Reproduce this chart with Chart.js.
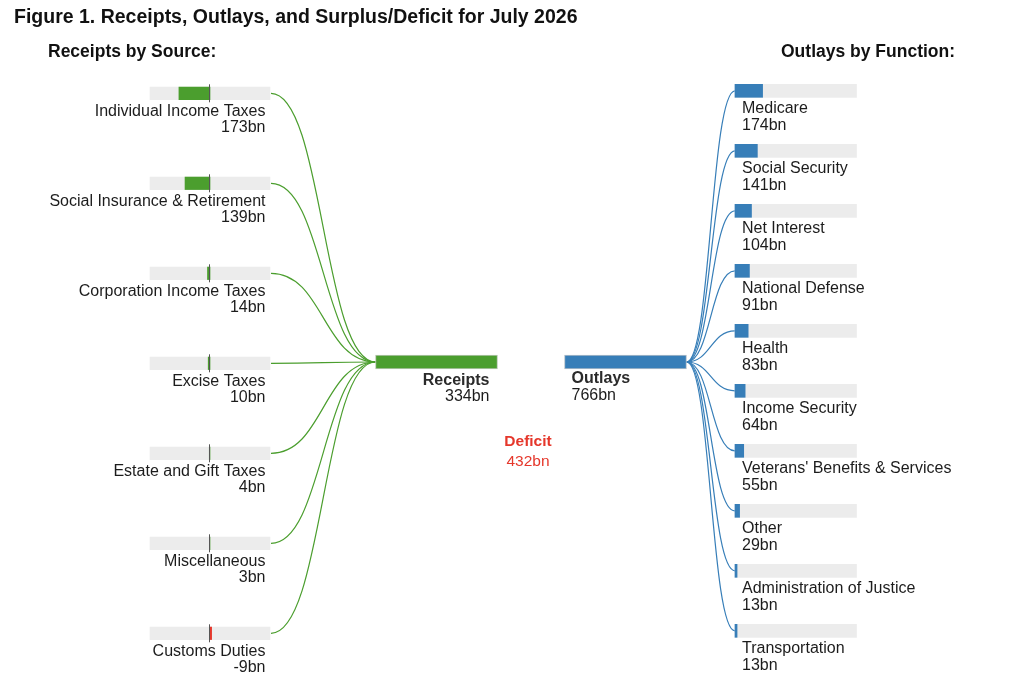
<!DOCTYPE html>
<html>
<head>
<meta charset="utf-8">
<script src="https://cdn.jsdelivr.net/npm/chart.js@4.4.1/dist/chart.umd.min.js"></script>
<style>
  html, body { margin: 0; padding: 0; background: #fff; }
  #wrap { position: relative; width: 1024px; height: 684px; }
</style>
</head>
<body>
<div id="wrap"><canvas id="flow" width="1024" height="684"></canvas></div>
<script>
// dati (miliardi di dollari)
const receiptSources = ['Individual Income Taxes', 'Social Insurance & Retirement', 'Corporation Income Taxes',
  'Excise Taxes', 'Estate and Gift Taxes', 'Miscellaneous', 'Customs Duties'];
const receiptValues = [173, 139, 14, 10, 4, 3, -9];
const outlayFunctions = ['Medicare', 'Social Security', 'Net Interest', 'National Defense', 'Health',
  'Income Security', "Veterans' Benefits & Services", 'Other', 'Administration of Justice', 'Transportation'];
const outlayValues = [174, 141, 104, 91, 83, 64, 55, 29, 13, 13];
const receiptsTotal = 334;
const outlaysTotal = 766;
const deficitValue = 432;

const W = 1024, H = 684;
const GREEN = '#4b9e2e', BLUE = '#377eb8', RED = '#e5372b', TRACK = '#ececec', INK = '#1c1c1c';
const FONT = '"Liberation Sans", Arial, Helvetica, sans-serif';

// dove stanno i pannelli (pixel)
const LAYOUT = {
  leftZero: 210, leftHalf: 60, leftRow0: 93.3, leftStep: 90,
  rightStart: 735, rightLen: 121.5, rightRow0: 90.8, rightStep: 60,
  recBar: [375.5, 497.5], outBar: [564.5, 686.5], centerY: 362
};

// valore a -> pixel pa, valore b -> pixel pb
function fitScale(a, pa, b, pb, len, vertical) {
  const k = (pb - pa) / (b - a);
  if (k > 0) { const min = a - pa / k; return { min, max: min + len / k, reverse: vertical }; }
  const m = -k; const max = a + pa / m;
  return { min: max - len / m, max, reverse: !vertical };
}
function axis(id, fit) {
  return { type: 'linear', axis: id[0], display: false, min: fit.min, max: fit.max, reverse: fit.reverse,
    offset: false, beginAtZero: false, grace: 0, bounds: 'data',
    grid: { display: false, offset: false }, ticks: { display: false } };
}

const L = LAYOUT;
const fitXL = fitScale(0, L.leftZero, receiptsTotal, L.leftZero - L.leftHalf, W, false);
const fitXR = fitScale(0, L.rightStart, outlaysTotal, L.rightStart + L.rightLen, W, false);
const fitXCR = fitScale(0, L.recBar[0], receiptsTotal, L.recBar[1], W, false);
const fitXCO = fitScale(0, L.outBar[0], outlaysTotal, L.outBar[1], W, false);
const fitYL = fitScale(0, L.leftRow0, 1, L.leftRow0 + L.leftStep, H, true);
const fitYR = fitScale(0, L.rightRow0, 1, L.rightRow0 + L.rightStep, H, true);
const fitYC = fitScale(0, L.centerY, 1, L.centerY + 50, H, true);

const scales = {
  xL: axis('xL', fitXL), xR: axis('xR', fitXR), xCR: axis('xCR', fitXCR), xCO: axis('xCO', fitXCO),
  yL: axis('yL', fitYL), yR: axis('yR', fitYR), yC: axis('yC', fitYC)
};

const barBase = { grouped: false, categoryPercentage: 1, barPercentage: 1, borderWidth: 0 };
const datasets = [
  { ...barBase, label: 'receipts', xAxisID: 'xL', yAxisID: 'yL', order: 1, barThickness: 12.5,
    data: receiptValues.map((v, i) => ({ x: [0, v], y: i })),
    backgroundColor: receiptValues.map(v => v < 0 ? RED : GREEN) },
  { ...barBase, label: 'receiptsTrack', xAxisID: 'xL', yAxisID: 'yL', order: 3, barThickness: 12.5,
    data: receiptSources.map((s, i) => ({ x: [-receiptsTotal, receiptsTotal], y: i })),
    backgroundColor: TRACK },
  { ...barBase, label: 'outlays', xAxisID: 'xR', yAxisID: 'yR', order: 1, barThickness: 13,
    data: outlayValues.map((v, i) => ({ x: [0, v], y: i })), backgroundColor: BLUE },
  { ...barBase, label: 'outlaysTrack', xAxisID: 'xR', yAxisID: 'yR', order: 3, barThickness: 13,
    data: outlayFunctions.map((s, i) => ({ x: [0, outlaysTotal], y: i })), backgroundColor: TRACK },
  { ...barBase, label: 'receiptsTotal', xAxisID: 'xCR', yAxisID: 'yC', order: 1, barThickness: 14,
    data: [{ x: [0, receiptsTotal], y: 0 }], backgroundColor: GREEN,
    borderColor: '#b9c7b3', borderWidth: 1, borderSkipped: false },
  { ...barBase, label: 'outlaysTotal', xAxisID: 'xCO', yAxisID: 'yC', order: 1, barThickness: 14,
    data: [{ x: [0, outlaysTotal], y: 0 }], backgroundColor: BLUE,
    borderColor: '#b3bfca', borderWidth: 1, borderSkipped: false }
];

function curve(ctx, x0, y0, x1, y1) {
  const mx = (x0 + x1) / 2;
  ctx.beginPath();
  ctx.moveTo(x0, y0);
  ctx.bezierCurveTo(mx, y0, mx, y1, x1, y1);
  ctx.stroke();
}

function text(ctx, str, x, y, align, weight, size, color) {
  ctx.font = weight + ' ' + size + 'px ' + FONT;
  ctx.textAlign = align;
  ctx.textBaseline = 'middle';
  ctx.fillStyle = color;
  ctx.fillText(str, x, y);
}

const flowPlugin = {
  id: 'flow',
  beforeDatasetsDraw(chart) {
    const { ctx } = chart; const s = chart.scales;
    ctx.save();
    ctx.lineWidth = 1.2;
    // ricavi -> barra Receipts
    ctx.strokeStyle = GREEN;
    const rx = s.xCR.getPixelForValue(0), ry = s.yC.getPixelForValue(0);
    receiptValues.forEach((v, i) => {
      curve(ctx, s.xL.getPixelForValue(-receiptsTotal) + 1, s.yL.getPixelForValue(i), rx, ry);
    });
    // barra Outlays -> spese
    ctx.strokeStyle = BLUE;
    const ox = s.xCO.getPixelForValue(outlaysTotal), oy = s.yC.getPixelForValue(0);
    outlayValues.forEach((v, i) => {
      curve(ctx, ox, oy, s.xR.getPixelForValue(0), s.yR.getPixelForValue(i));
    });
    ctx.restore();
  },
  afterDatasetsDraw(chart) {
    const { ctx } = chart; const s = chart.scales;
    ctx.save();
    // linea dello zero a sinistra
    ctx.strokeStyle = '#555';
    ctx.lineWidth = 1;
    const zx = s.xL.getPixelForValue(0) - 0.5;
    receiptValues.forEach((v, i) => {
      const y = s.yL.getPixelForValue(i);
      ctx.beginPath(); ctx.moveTo(zx, y - 9); ctx.lineTo(zx, y + 9); ctx.stroke();
    });

    text(ctx, 'Figure 1. Receipts, Outlays, and Surplus/Deficit for July 2026', 14, 18, 'left', 'bold', 19.5, '#111');
    text(ctx, 'Receipts by Source:', 48, 52, 'left', 'bold', 17.5, '#111');
    text(ctx, 'Outlays by Function:', 781, 52, 'left', 'bold', 17.5, '#111');

    const lx = s.xL.getPixelForValue(-receiptsTotal) - 4.5;
    receiptSources.forEach((name, i) => {
      const y = s.yL.getPixelForValue(i);
      text(ctx, name, lx, y + 18, 'right', 'normal', 16, INK);
      text(ctx, receiptValues[i] + 'bn', lx, y + 34, 'right', 'normal', 16, INK);
    });
    const rlx = s.xR.getPixelForValue(0) + 7;
    outlayFunctions.forEach((name, i) => {
      const y = s.yR.getPixelForValue(i);
      text(ctx, name, rlx, y + 18, 'left', 'normal', 16, INK);
      text(ctx, outlayValues[i] + 'bn', rlx, y + 34.5, 'left', 'normal', 16, INK);
    });

    const recRight = s.xCR.getPixelForValue(receiptsTotal) - 8, cy = s.yC.getPixelForValue(0);
    text(ctx, 'Receipts', recRight, cy + 18.5, 'right', 'bold', 16, '#2b2b2b');
    text(ctx, receiptsTotal + 'bn', recRight, cy + 35, 'right', 'normal', 16, INK);
    const outLeft = s.xCO.getPixelForValue(0) + 7;
    text(ctx, 'Outlays', outLeft, cy + 17, 'left', 'bold', 16, '#2b2b2b');
    text(ctx, outlaysTotal + 'bn', outLeft, cy + 33.5, 'left', 'normal', 16, INK);

    const dx = (s.xCR.getPixelForValue(receiptsTotal) + s.xCO.getPixelForValue(0)) / 2 - 3;
    text(ctx, 'Deficit', dx, cy + 80, 'center', 'bold', 15.5, RED);
    text(ctx, deficitValue + 'bn', dx, cy + 100, 'center', 'normal', 15.5, RED);
    ctx.restore();
  }
};

new Chart(document.getElementById('flow'), {
  type: 'bar',
  data: { datasets },
  options: {
    indexAxis: 'y',
    responsive: false,
    animation: false,
    devicePixelRatio: 1,
    layout: { padding: 0 },
    scales,
    plugins: { legend: { display: false }, tooltip: { enabled: false } }
  },
  plugins: [flowPlugin]
});
</script>
</body>
</html>
